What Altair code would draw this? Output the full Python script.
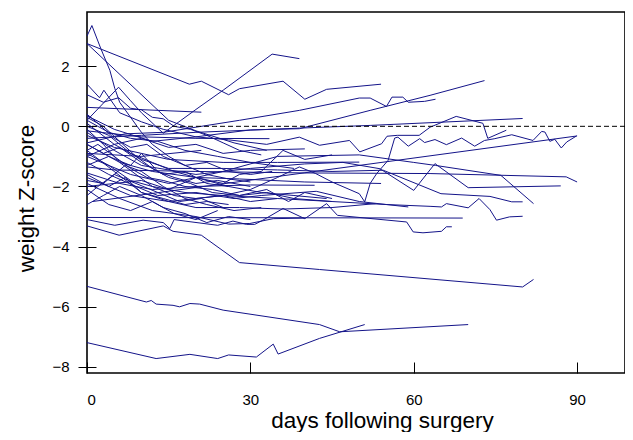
import altair as alt
import pandas as pd

# each patient: list of (days following surgery, weight Z-score)
p01 = [(0,3.0),(0.9,3.35),(2.5,2.6),(4.2,1.86),(5.1,1.26),(6,0.8),(8,0.3),(10,-0.2),(12,-0.6),(15,-1.0),(18,-1.3),(22,-1.6),(26,-1.75),(30,-1.85)]
p02 = [(0,2.75),(18.8,1.4),(21,1.5),(26,1.05),(28,1.25),(36,1.5),(40,0.9),(44,1.23),(54,1.4)]
p03 = [(0,2.75),(15,0.2),(20,-0.15),(27,-0.55),(33,-0.8)]
p04 = [(0,0.2),(5.8,1.3),(8,0.85),(10,0.45),(14,-0.23),(20,0.56),(25,1.2),(34,2.4),(39,2.25)]
p05 = [(0,0.35),(5,-0.1),(12,-0.5),(20,-0.35),(30,-0.12),(39,-0.08),(52,0.53),(63,1.03),(73,1.52)]
p06 = [(0,-0.55),(7,-0.25),(14,-0.2),(28,0.2),(39,0.53),(50,0.94),(52,0.94),(55,0.66),(56,0.97),(58,0.97),(59,0.8),(62,0.83),(64,0.9)]
p07 = [(0,0.63),(21,0.47)]
p08 = [(0,1.4),(2.3,0.95),(3.1,1.2),(6,0.45),(10,0.15),(14,-0.1),(20,-0.35),(26,-0.45),(33,-0.6),(39,-0.36),(42.7,-0.63),(48.2,-0.47),(50.1,-0.85),(54.1,-0.58),(55.1,-0.33),(57,-0.3),(61,-0.3),(63,-0.03),(67.8,0.33),(72.7,0.1),(73.6,-0.4),(77,-0.13)]
p09 = [(0,1.05),(3,0.8),(5.8,0.95),(8,0.6),(10,0.55),(12,0.3),(14,0.25),(16,0.0),(19,-0.1),(22,-0.3),(25,-0.55),(28,-0.8),(32,-0.95)]
p10 = [(0,-0.4),(10,-0.3),(20,-0.2),(39,-0.06),(52,0.03),(80,0.26)]
p11 = [(1,-2.5),(90,-0.32)]
p12 = [(0,-0.9),(4,-1.3),(8,-1.8),(12,-2.0),(18,-2.2),(25,-2.3),(30,-2.1),(35,-1.7),(39,-1.35),(42,-1.57),(45,-1.85),(50,-2.24),(51,-2.51),(52,-1.9),(53.2,-1.57),(55.3,-1.13),(56.5,-0.39),(57.1,-0.36),(59,-0.66),(61.1,-0.41),(62,-0.54),(63.9,-0.44),(66,-0.61),(68.8,-0.39),(71.2,-0.66),(73,-0.47),(74.9,-0.41),(78,-0.28),(81.9,-0.47),(83.5,-0.17),(84.1,-0.19),(85,-0.5),(85.9,-0.43),(87.1,-0.72),(88.1,-0.52),(89.9,-0.32)]
p13 = [(0,-1.35),(5,-1.45),(20,-1.5),(40,-1.55),(63,-1.57),(88,-1.68),(90,-1.85)]
p14 = [(0,-0.2),(5,-0.8),(10,-1.3),(20,-1.6),(30,-1.4),(40,-1.25),(47,-1.2),(53.8,-1.41),(60,-2.13),(63.9,-1.24),(70,-2.04),(87,-1.98)]
p15 = [(0,-1.0),(8,-1.6),(15,-1.9),(25,-1.5),(35,-1.0),(50,-0.95),(60,-1.2),(64,-1.3),(76,-1.63),(82,-2.57)]
p16 = [(0,0.1),(5,-0.6),(10,-1.1),(15,-1.4),(25,-1.4),(35,-1.45),(45,-1.5),(54.4,-1.46),(65,-2.24),(74,-2.33),(78,-2.51),(80,-2.51)]
p17 = [(0,-1.7),(8,-2.3),(15,-2.5),(25,-2.3),(35,-2.4),(45,-2.5),(55,-2.6),(63,-2.66),(65.1,-2.68),(66,-2.57),(70,-2.71),(72,-2.4),(74,-2.77),(75.2,-3.12),(77.6,-3.01),(80,-2.99)]
p18 = [(0,-3.03),(40,-3.04),(69,-3.05)]
p19 = [(0,-3.1),(5.1,-3.29),(10.3,-3.12),(14,-3.2),(15.2,-3.4),(16,-3.1),(18,-3.15),(24,-3.29),(26.8,-3.15),(29.3,-3.26),(30.8,-3.26),(32.3,-3.12),(36,-2.73),(40,-3.07),(44,-2.57),(46,-2.96),(58.7,-3.18),(59.9,-3.51),(61.7,-3.54),(65.1,-3.49),(66,-3.34),(67,-3.34)]
p20 = [(0,-3.31),(5.9,-3.62),(14,-3.31),(15.8,-3.49),(21,-3.62),(28,-4.53),(42.7,-4.76),(80,-5.34),(82,-5.09)]
p21 = [(0,-5.32),(10.9,-5.84),(11.8,-5.79),(12.7,-5.91),(15.8,-5.95),(17,-6.0),(18.9,-5.89),(20.7,-5.91),(25,-6.11),(42.7,-6.59),(46.4,-6.83),(70,-6.59)]
p22 = [(0,-7.19),(12.7,-7.72),(18.9,-7.58),(24,-7.72),(26,-7.6),(31.1,-7.67),(34.2,-7.24),(35.1,-7.57),(42.7,-7.05),(51,-6.59)]
p23 = [(0,-1.2),(4,-1.6),(9,-2.0),(13,-2.3),(20,-2.2),(27,-2.4),(32,-2.3),(42.1,-2.16),(50,-2.5),(59,-2.68)]
p24 = [(0,-0.8),(5,-1.5),(10,-2.2),(15,-2.5),(20,-2.7),(28,-2.7),(36,-2.75),(45,-2.7),(53,-2.57)]
p25 = [(0,-0.3),(5,-0.7),(10,-0.9),(15,-1.1),(25,-1.2),(35,-1.2),(50,-1.19)]
p26 = [(0,-1.55),(6,-1.9),(12,-2.1),(20,-2.0),(30,-1.95),(41.8,-1.96)]
p27 = [(0,-0.15),(10,-0.35),(20,-0.4),(33.5,-0.41)]
p28 = [(0,-0.6),(6,-1.2),(12,-1.5),(20,-1.7),(28,-1.75),(40,-1.85),(54,-1.9)]
p29 = [(0,-0.1),(3,-0.6),(6,-1.2),(9,-1.6),(12,-2.0),(16,-2.3),(20,-2.4),(25,-2.3),(30,-2.5),(35,-2.4)]
p30 = [(0,-1.8),(3,-1.9),(7,-1.3),(10,-1.5),(14,-2.0),(18,-2.4),(22,-2.6),(27,-2.8),(32,-2.7)]
p31 = [(0,-2.1),(4,-2.6),(8,-2.8),(12,-2.5),(16,-2.9),(20,-3.1),(24,-2.8)]
p32 = [(0,-2.6),(3,-2.3),(6,-2.0),(10,-2.3),(14,-2.7),(18,-2.9),(22,-3.2),(26,-3.0),(30,-3.1)]
p33 = [(0,-0.8),(2,-0.6),(5,-1.0),(8,-1.4),(11,-1.7),(14,-1.8),(18,-2.0),(23,-2.1),(28,-2.3),(33,-2.2),(38,-2.4),(45,-2.5)]
p34 = [(0,-1.3),(4,-1.0),(8,-1.3),(10,-0.9),(13,-1.5),(16,-1.7),(20,-1.9),(24,-1.8),(30,-2.0)]
p35 = [(0,0.3),(3,0.0),(6,-0.5),(9,-1.0),(12,-1.4),(15,-1.7),(19,-1.9),(23,-2.2),(28,-2.3),(33,-2.1),(37,-2.5),(40,-2.2),(45,-2.4)]
p36 = [(0,-2.0),(5,-1.9),(10,-1.8),(15,-2.1),(20,-1.7),(25,-1.9),(28,-1.6),(32,-1.5),(36,-0.8),(40,-1.1),(45,-0.95)]
p37 = [(0,0.0),(4,-0.3),(8,-0.9),(12,-1.2),(16,-1.5),(20,-1.7),(26,-2.0),(32,-2.2),(38,-2.3),(44,-2.4)]
p38 = [(0,-1.6),(4,-2.0),(7,-1.7),(10,-2.2),(14,-2.4),(18,-2.6),(22,-2.5),(26,-2.6)]
p39 = [(0,0.4),(2,0.1),(5,-0.4),(8,-0.7),(11,-0.6),(14,-1.0),(18,-1.3),(22,-1.2),(26,-1.5),(30,-1.6),(34,-1.5)]
p40 = [(0,-0.6),(3,-0.9),(6,-0.7),(10,-1.2),(14,-1.6),(18,-1.5),(22,-1.9),(26,-2.0)]
p41 = [(0,-1.0),(5,-0.6),(10,-0.4),(15,-0.7),(20,-0.6),(25,-0.9),(30,-0.8),(40,-0.75)]
p42 = [(0,-2.3),(2,-2.0),(5,-1.6),(9,-1.9),(13,-2.2),(17,-2.5),(21,-2.4),(25,-2.7)]
p43 = [(0,-1.9),(6,-2.4),(12,-2.8),(20,-3.0),(26,-3.25),(29.9,-3.23),(34.2,-3.07),(40,-3.05)]
p44 = [(0,0.2),(4,-0.2),(8,-0.4),(13,-0.5),(18,-0.8),(24,-1.0),(30,-1.2),(38,-1.4)]
p45 = [(0,-0.9),(10,-1.0),(21,-0.8)]

patients = [p01,p02,p03,p04,p05,p06,p07,p08,p09,p10,p11,p12,p13,p14,p15,
            p16,p17,p18,p19,p20,p21,p22,p23,p24,p25,p26,p27,p28,p29,p30,
            p31,p32,p33,p34,p35,p36,p37,p38,p39,p40,p41,p42,p43,p44,p45]

x_ticks = [0, 30, 60, 90]
y_ticks = [-8, -6, -4, -2, 0, 2]
ref_level = [0]

rows = []
for i, p in enumerate(patients):
    for k, (d, z) in enumerate(p):
        rows.append({"id": i, "order": k, "day": d, "z": z})
df = pd.DataFrame(rows)

FONT = "Liberation Sans"
xscale = alt.Scale(domain=[0, 98.8], nice=False, zero=False)
yscale = alt.Scale(domain=[-8.2, 3.8], nice=False, zero=False)

xaxis = alt.Axis(values=x_ticks, title="days following surgery", grid=False, domain=False,
                 tickSize=11, offset=-11, tickColor="black", tickWidth=1,
                 labelFont=FONT, labelFontSize=15, labelColor="black", labelPadding=19,
                 titleFont=FONT, titleFontSize=22.5, titleFontWeight="normal", titleColor="black",
                 titleX=295, titleY=65, titleBaseline="alphabetic", titleAlign="center")
yaxis = alt.Axis(values=y_ticks, title="weight Z-score", grid=False, domain=False,
                 tickSize=18, offset=-9, tickColor="black", tickWidth=1,
                 labelFont=FONT, labelFontSize=15, labelColor="black", labelPadding=9,
                 titleFont=FONT, titleFontSize=22.5, titleFontWeight="normal", titleColor="black",
                 titleAngle=270, titleX=-63, titleY=186, titleBaseline="alphabetic", titleAlign="center")

lines = alt.Chart(df).mark_line(color="#141489", strokeWidth=1, clip=True).encode(
    x=alt.X("day:Q", scale=xscale, axis=xaxis),
    y=alt.Y("z:Q", scale=yscale, axis=yaxis),
    detail="id:N",
    order="order:Q",
)

ref = alt.Chart(pd.DataFrame({"z": ref_level})).mark_rule(
    color="black", strokeDash=[5, 3], strokeWidth=1
).encode(y=alt.Y("z:Q", scale=yscale))

chart = alt.layer(lines, ref).properties(
    width=538, height=361,
    autosize=alt.AutoSizeParams(type="none"),
    padding={"left": 79, "top": 4, "right": 0, "bottom": 59},
).configure_view(stroke="black", strokeWidth=1.6)

chart.save("out.html", embed_options={"renderer": "svg", "actions": False})
